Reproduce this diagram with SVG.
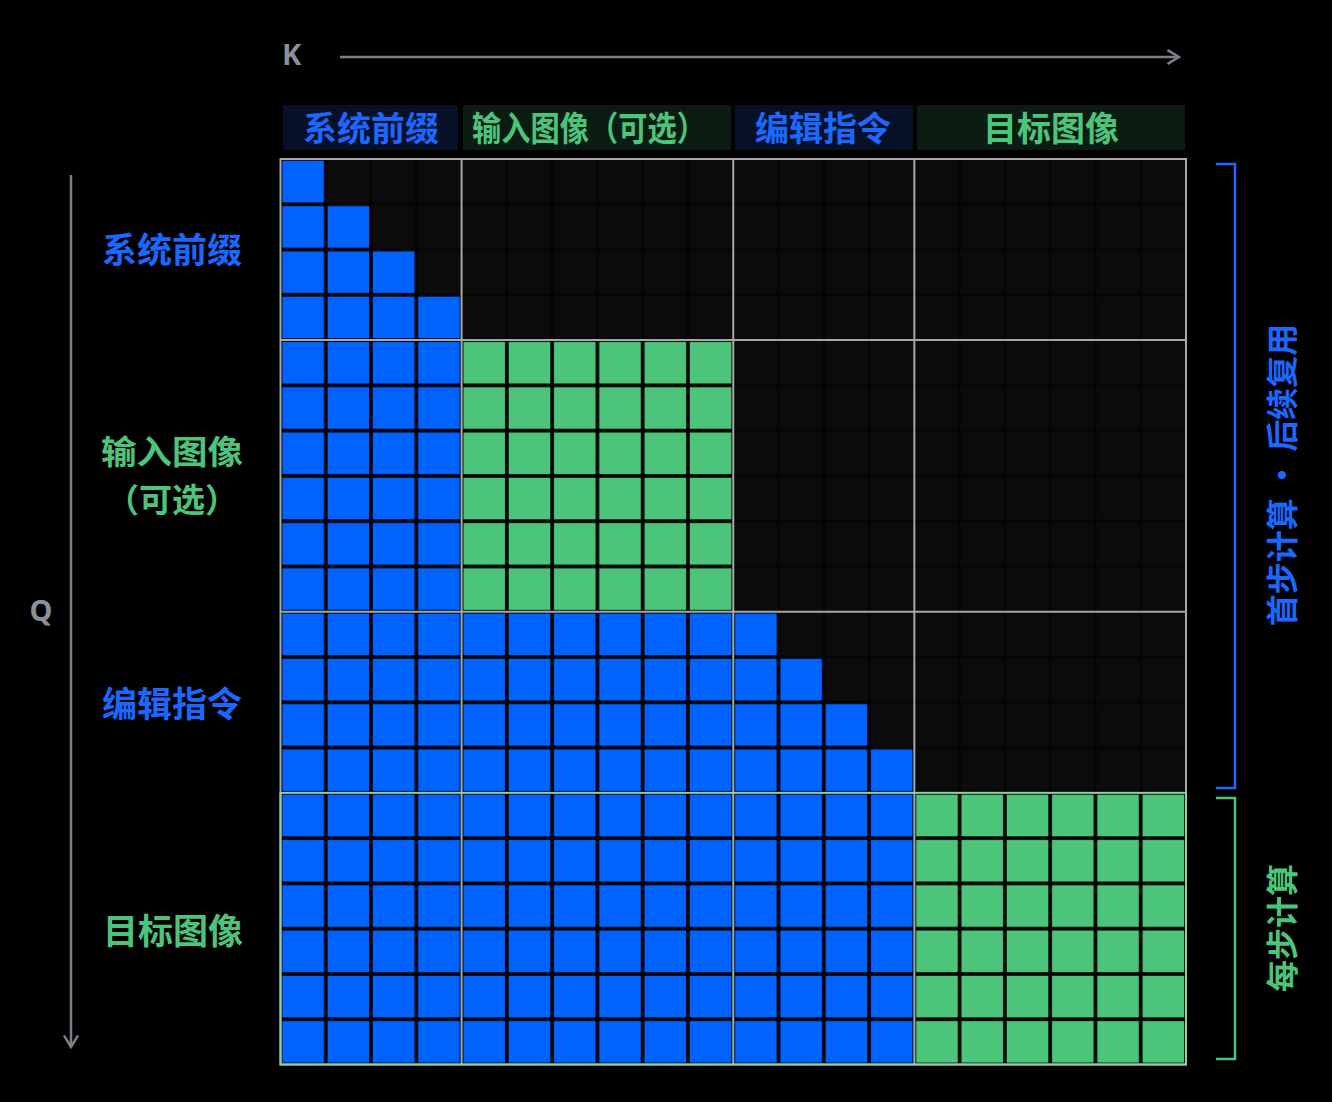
<svg xmlns="http://www.w3.org/2000/svg" width="1332" height="1102" viewBox="0 0 1332 1102">
  <style>
    .cjk { font-family: "Noto Sans CJK SC", "Noto Sans", sans-serif; font-weight: 700; }
    .axis-label { font-family: "Noto Sans", "Liberation Sans", sans-serif; font-weight: 700; font-size: 29px; fill: #8b909b; }
    .blue-t { fill: #1a68ff; }
    .green-t { fill: #4cc47c; }
    .hdr { font-size: 34px; text-anchor: middle; dominant-baseline: central; }
    .row { font-size: 35px; text-anchor: middle; dominant-baseline: central; }
    .row2 { font-size: 33px; text-anchor: middle; dominant-baseline: central; }
    .vert { font-size: 32px; text-anchor: middle; dominant-baseline: central; }
    .axis { stroke: #7b7f8a; stroke-width: 2.5; fill: none; }
    .bord { stroke: #a8a8a8; stroke-width: 2; fill: none; }
  </style>
  <defs>
    <pattern id="pEmpty" patternUnits="userSpaceOnUse" width="1" height="1">
      <rect width="1" height="1" fill="#040404"/>
      <rect x="0.03" y="0.03" width="0.94" height="0.94" fill="#0b0b0b"/>
    </pattern>
    <pattern id="pBlue" patternUnits="userSpaceOnUse" width="1" height="1">
      <rect width="1" height="1" fill="#000"/>
      <rect x="0.04" y="0.04" width="0.92" height="0.92" fill="#0062ff"/>
    </pattern>
    <pattern id="pGreen" patternUnits="userSpaceOnUse" width="1" height="1">
      <rect width="1" height="1" fill="#000"/>
      <rect x="0.04" y="0.04" width="0.92" height="0.92" fill="#4cc47a"/>
    </pattern>
    <marker id="chev" viewBox="0 0 14 16" refX="12.5" refY="8" markerWidth="14" markerHeight="16" markerUnits="userSpaceOnUse" orient="auto">
      <path d="M1,1 L12.5,8 L1,15" fill="none" stroke="#7b7f8a" stroke-width="2.5"/>
    </marker>
  </defs>

  <rect width="1332" height="1102" fill="#000"/>

  <!-- axes -->
  <g id="connectors">
    <line class="axis" x1="340" y1="57" x2="1179" y2="57" marker-end="url(#chev)"/>
    <line class="axis" x1="71" y1="175" x2="71" y2="1047" marker-end="url(#chev)"/>
  </g>
  <g id="axis-k"><text class="axis-label" x="282" y="65">K</text></g>
  <g id="axis-q"><text class="axis-label" x="41" y="621" text-anchor="middle">Q</text></g>

  <!-- column headers -->
  <g id="hdr-sys">
    <rect x="283" y="105" width="175" height="45" fill="#061128"/>
    <text class="cjk hdr blue-t" x="371" y="126">系统前缀</text>
  </g>
  <g id="hdr-img">
    <rect x="463" y="105" width="268" height="45" fill="#0b1d12"/>
    <text class="cjk hdr green-t" x="589" y="126" textLength="234" lengthAdjust="spacingAndGlyphs">输入图像（可选）</text>
  </g>
  <g id="hdr-edit">
    <rect x="735" y="105" width="178" height="45" fill="#061128"/>
    <text class="cjk hdr blue-t" x="823" y="126">编辑指令</text>
  </g>
  <g id="hdr-tgt">
    <rect x="917" y="105" width="268" height="45" fill="#0b1d12"/>
    <text class="cjk hdr green-t" x="1051" y="126">目标图像</text>
  </g>

  <!-- row labels -->
  <g id="row-sys"><text class="cjk row blue-t" x="172" y="247">系统前缀</text></g>
  <g id="row-img">
    <text class="cjk row2 green-t" x="172" y="450" textLength="142" lengthAdjust="spacingAndGlyphs">输入图像</text>
    <text class="cjk row2 green-t" x="172" y="498">（可选）</text>
  </g>
  <g id="row-edit"><text class="cjk row blue-t" x="172" y="701">编辑指令</text></g>
  <g id="row-tgt"><text class="cjk row green-t" x="173" y="928">目标图像</text></g>

  <!-- attention matrix (unit = one token cell) -->
  <g id="matrix" transform="translate(280.5,159) scale(45.275)">
    <rect id="grid-empty" width="20" height="20" fill="url(#pEmpty)"/>
    <g id="blk-sys-sys"><polygon points="0,0 1,0 1,1 2,1 2,2 3,2 3,3 4,3 4,4 0,4" fill="url(#pBlue)"/></g>
    <g id="blk-img-sys"><rect x="0" y="4" width="4" height="6" fill="url(#pBlue)"/></g>
    <g id="blk-img-img"><rect x="4" y="4" width="6" height="6" fill="url(#pGreen)"/></g>
    <g id="blk-edit-sys"><rect x="0" y="10" width="4" height="4" fill="url(#pBlue)"/></g>
    <g id="blk-edit-img"><rect x="4" y="10" width="6" height="4" fill="url(#pBlue)"/></g>
    <g id="blk-edit-edit"><polygon points="10,10 11,10 11,11 12,11 12,12 13,12 13,13 14,13 14,14 10,14" fill="url(#pBlue)"/></g>
    <g id="blk-tgt-sys"><rect x="0" y="14" width="4" height="6" fill="url(#pBlue)"/></g>
    <g id="blk-tgt-img"><rect x="4" y="14" width="6" height="6" fill="url(#pBlue)"/></g>
    <g id="blk-tgt-edit"><rect x="10" y="14" width="4" height="6" fill="url(#pBlue)"/></g>
    <g id="blk-tgt-tgt"><rect x="14" y="14" width="6" height="6" fill="url(#pGreen)"/></g>
  </g>

  <!-- block borders -->
  <g id="borders">
    <rect class="bord" x="280.5" y="159" width="905.5" height="905.5"/>
    <line class="bord" x1="461.6" y1="159" x2="461.6" y2="1064.5"/>
    <line class="bord" x1="733.25" y1="159" x2="733.25" y2="1064.5"/>
    <line class="bord" x1="914.35" y1="159" x2="914.35" y2="1064.5"/>
    <line class="bord" x1="280.5" y1="340.1" x2="1186" y2="340.1"/>
    <line class="bord" x1="280.5" y1="611.75" x2="1186" y2="611.75"/>
    <rect x="280.5" y="792.85" width="905.5" height="271.65" fill="none" stroke="#88d2a4" stroke-width="2"/>
  </g>

  <!-- right brackets -->
  <g id="bracket-first">
    <path d="M1216,164 H1235 V788 H1216" fill="none" stroke="#1a68ff" stroke-width="2.5"/>
    <text class="cjk vert blue-t" transform="translate(1280,475) rotate(-90)" x="0" y="0">首步计算 · 后续复用</text>
  </g>
  <g id="bracket-every">
    <path d="M1216,798 H1235 V1059 H1216" fill="none" stroke="#4cc47a" stroke-width="2.5"/>
    <text class="cjk vert green-t" transform="translate(1280,928) rotate(-90)" x="0" y="0">每步计算</text>
  </g>
</svg>
